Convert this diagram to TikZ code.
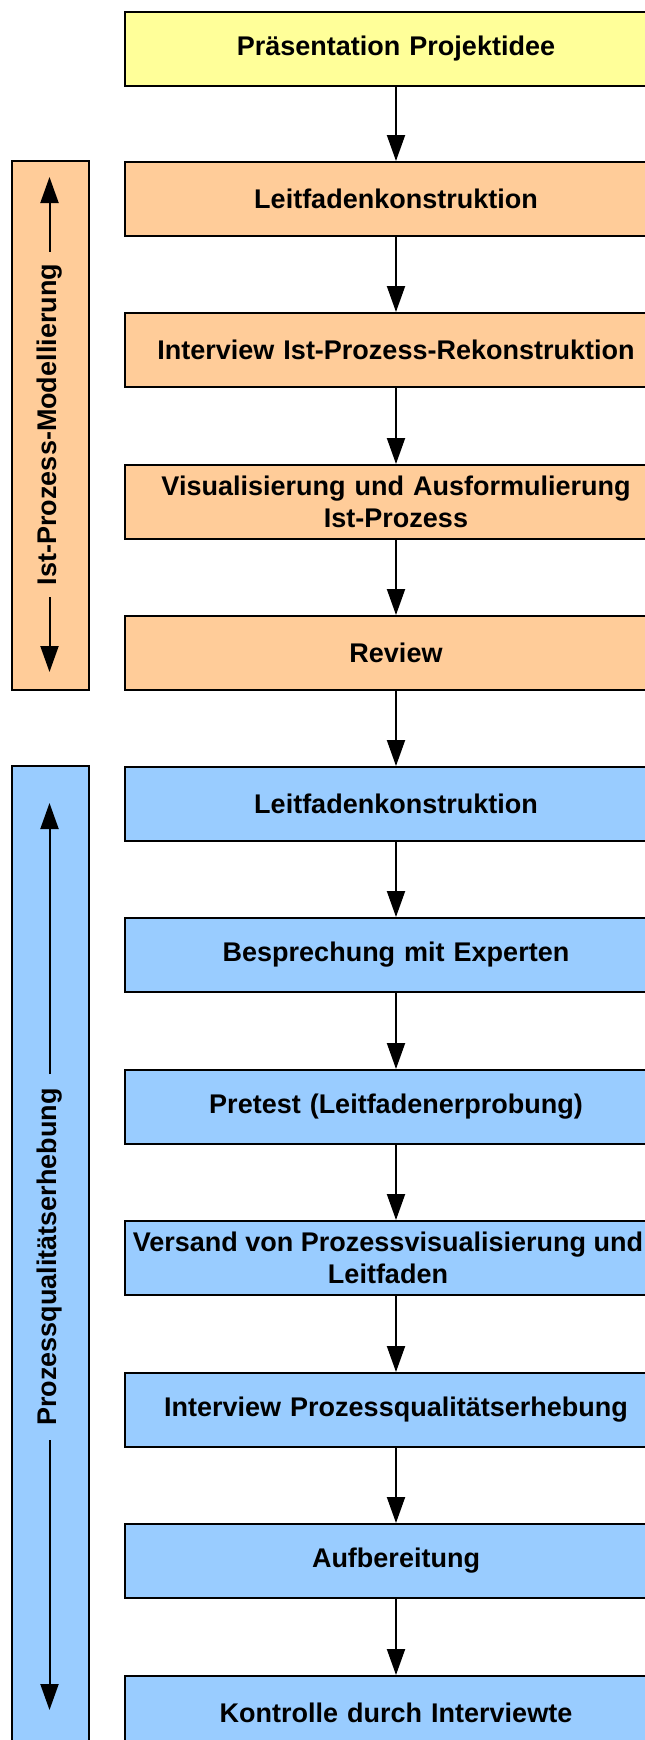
\documentclass[tikz,border=0pt]{standalone}
\usepackage{fontspec}
\setmainfont{Liberation Sans}
\usetikzlibrary{arrows.meta}
\definecolor{cyellow}{HTML}{FFFF99}
\definecolor{corange}{HTML}{FFCC99}
\definecolor{cblue}{HTML}{99CCFF}
\begin{document}
\begin{tikzpicture}[x=1pt,y=-1pt,
  boxfont/.style={font=\fontsize{27}{32}\selectfont\bfseries},
  stepbox/.style={draw=black, line width=2pt, minimum width=542pt, minimum height=74pt,
    anchor=north west, inner sep=0pt, align=center, text width=530pt, boxfont},
  flow/.style={line width=2pt, -{Triangle[width=18pt,length=26pt]}},
  sidebar/.style={draw=black, line width=2pt, minimum width=77pt, anchor=north west, inner sep=0pt},
  sidetext/.style={rotate=90, inner xsep=12pt, inner ysep=0pt, boxfont}
]
\useasboundingbox (0,0) rectangle (645,1740);
\clip (0,0) rectangle (645,1740);

% side bars
\node[sidebar, fill=corange, minimum height=529pt] (obar) at (11,160) {};
\node[sidebar, fill=cblue, minimum height=987pt] (bbar) at (11,765) {};

\node[sidetext] (otext) at (49.5,424.5) {Ist-Prozess-Modellierung};
\coordinate (otop) at (49.5,177);
\coordinate (obot) at (49.5,672);
\draw[flow] (otext.east) -- (otop);
\draw[flow] (otext.west) -- (obot);

\node[sidetext, inner xsep=14pt] (btext) at (49.5,1257) {Prozessqualitätserhebung};
\coordinate (btop) at (49.5,803);
\coordinate (bbot) at (49.5,1710);
\draw[flow] (btext.east) -- (btop);
\draw[flow] (btext.west) -- (bbot);

% main flow
\node[stepbox, fill=cyellow] (p0) at (124,11) {Präsentation Projektidee};
\node[stepbox, fill=corange] (o1) at (124,161) {Leitfadenkonstruktion};
\node[stepbox, fill=corange] (o2) at (124,312) {Interview Ist-Prozess-Rekonstruktion};
\node[stepbox, fill=corange] (o3) at (124,464) {Visualisierung und Ausformulierung\\Ist-Prozess};
\node[stepbox, fill=corange] (o4) at (124,615) {Review};
\node[stepbox, fill=cblue] (b1) at (124,766) {Leitfadenkonstruktion};
\node[stepbox, fill=cblue] (b2) at (124,917) {Besprechung mit Experten};
\node[stepbox, fill=cblue] (b3) at (124,1069) {Pretest (Leitfadenerprobung)};
\node[stepbox, fill=cblue] (b4) at (124,1220) {};
\node[boxfont, align=center, inner sep=0pt] (b4t) at ([xshift=-8pt]b4.center) {Versand von Prozessvisualisierung und\\Leitfaden};
\node[stepbox, fill=cblue] (b5) at (124,1372) {Interview Prozessqualitätserhebung};
\node[stepbox, fill=cblue] (b6) at (124,1523) {Aufbereitung};
\node[stepbox, fill=cblue] (b7) at (124,1675) {Kontrolle durch Interviewte};

\draw[flow] (p0) -- (o1);
\draw[flow] (o1) -- (o2);
\draw[flow] (o2) -- (o3);
\draw[flow] (o3) -- (o4);
\draw[flow] (o4) -- (b1);
\draw[flow] (b1) -- (b2);
\draw[flow] (b2) -- (b3);
\draw[flow] (b3) -- (b4);
\draw[flow] (b4) -- (b5);
\draw[flow] (b5) -- (b6);
\draw[flow] (b6) -- (b7);
\end{tikzpicture}
\end{document}
